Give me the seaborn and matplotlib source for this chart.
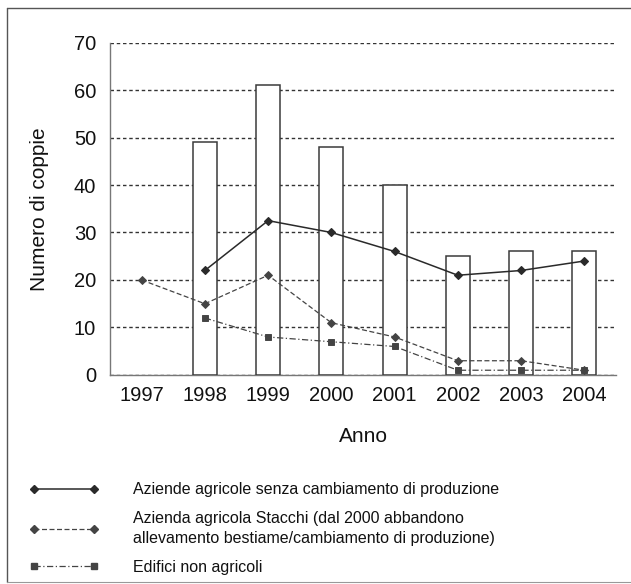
"""
Coppie nidificanti per anno: colonne (totale) e linee per tipo di edificio.
"""

import matplotlib

matplotlib.use("Agg")
import matplotlib.pyplot as plt
import numpy as np
import pandas as pd
import seaborn as sns
from matplotlib.lines import Line2D

# --- data ---
years = ["1997", "1998", "1999", "2000", "2001", "2002", "2003", "2004"]
totale = [np.nan, 49, 61, 48, 40, 25, 26, 26]
senza_cambiamento = [np.nan, 22, 32.5, 30, 26, 21, 22, 24]
stacchi = [20, 15, 21, 11, 8, 3, 3, 1]
non_agricoli = [np.nan, 12, 8, 7, 6, 1, 1, 1]

labels = [
    "Aziende agricole senza cambiamento di produzione",
    "Azienda agricola Stacchi (dal 2000 abbandono\nallevamento bestiame/cambiamento di produzione)",
    "Edifici non agricoli",
]

sns.set_theme(style="white")
plt.rcParams["font.family"] = ["Liberation Sans", "DejaVu Sans"]

df = pd.DataFrame(
    {
        "anno": years,
        "totale": totale,
        "senza": senza_cambiamento,
        "stacchi": stacchi,
        "non_agricoli": non_agricoli,
    }
)

fig = plt.figure(figsize=(6.31, 5.84), dpi=100)
ax = fig.add_axes([0.1743, 0.3579, 0.8019, 0.5693])

sns.barplot(
    data=df,
    x="anno",
    y="totale",
    order=years,
    width=0.38,
    color="white",
    edgecolor="#3a3a3a",
    linewidth=1.1,
    ax=ax,
    zorder=3,
)

line_styles = [
    dict(color="#2a2a2a", linestyle="-", marker="D", markersize=4, linewidth=1.1),
    dict(color="#444444", linestyle=(0, (4, 2)), marker="D", markersize=4, linewidth=0.9),
    dict(color="#444444", linestyle=(0, (5, 2, 1, 2)), marker="s", markersize=4, linewidth=0.9),
]

for col, style in zip(["senza", "stacchi", "non_agricoli"], line_styles):
    sns.pointplot(
        data=df,
        x="anno",
        y=col,
        order=years,
        errorbar=None,
        ax=ax,
        zorder=4,
        **style,
    )

ax.set_xlim(-0.5, len(years) - 0.5)
ax.set_ylim(0, 70)
ax.set_yticks(range(0, 71, 10))
ax.yaxis.grid(True, color="#333333", linestyle=(0, (2.5, 2)), linewidth=1.0)
ax.set_axisbelow(True)

# Excel style: tick marks between the categories
ax.set_xticks(range(len(years)))
ax.set_xticks(np.arange(-0.5, len(years), 1), minor=True)
ax.tick_params(axis="x", which="major", length=0, labelsize=14.5, pad=8, labelcolor="#111111")
ax.tick_params(axis="x", which="minor", length=4, width=0.8, color="#666666", direction="out")
ax.tick_params(axis="y", length=4, width=0.8, color="#666666", direction="out",
               labelsize=14.5, pad=6, labelcolor="#111111")

for side in ["top", "right"]:
    ax.spines[side].set_visible(False)
for side in ["left", "bottom"]:
    ax.spines[side].set_color("#777777")
    ax.spines[side].set_linewidth(1.0)

ax.set_xlabel("Anno", fontsize=15, color="#111111", labelpad=16)
ax.set_ylabel("Numero di coppie", fontsize=15, color="#111111", labelpad=18)

handles = [Line2D([], [], **s) for s in line_styles]
leg = fig.legend(
    handles,
    labels,
    loc="upper left",
    bbox_to_anchor=(0.033, 0.188),
    frameon=False,
    numpoints=2,
    handlelength=4.4,
    handletextpad=2.1,
    labelspacing=0.85,
    fontsize=11.5,
    borderpad=0,
)
for t in leg.get_texts():
    t.set_color("#111111")
leg.get_texts()[1].set_linespacing(1.45)

# frame around the whole picture
frame_kw = dict(color="#555555", linewidth=1.0, transform=fig.transFigure)
fig.add_artist(Line2D([7 / 631, 1], [1 - 7.5 / 584, 1 - 7.5 / 584], **frame_kw))
fig.add_artist(Line2D([7 / 631, 7 / 631], [1 - 7.5 / 584, 2 / 584], **frame_kw))
fig.add_artist(Line2D([7 / 631, 1], [2 / 584, 2 / 584], color="#999999",
                      linewidth=0.8, transform=fig.transFigure))

fig.savefig("out.png", dpi=100)
